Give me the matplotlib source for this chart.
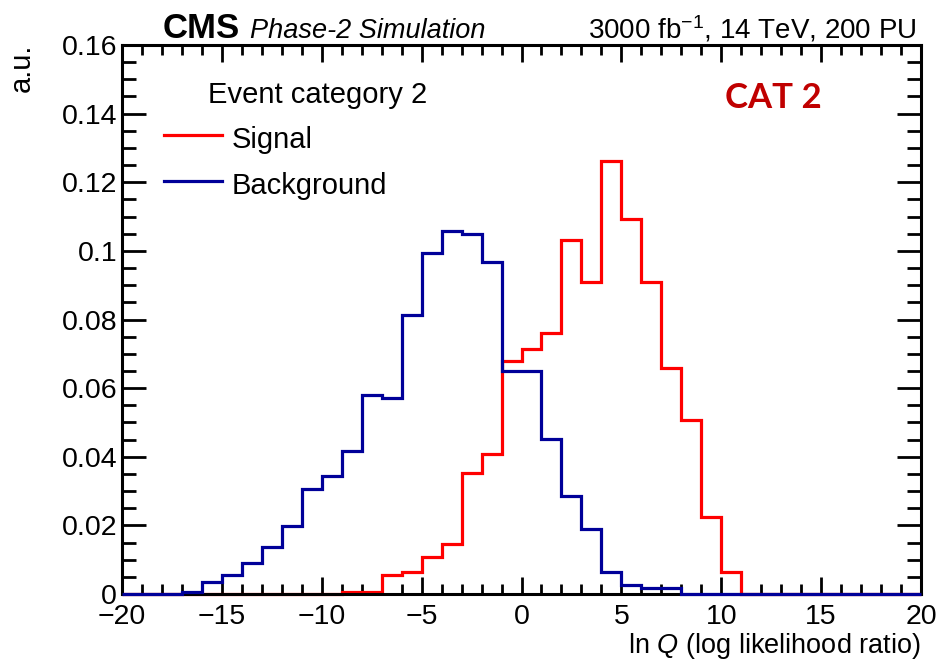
import numpy as np
import matplotlib
matplotlib.use('Agg')
import matplotlib.pyplot as plt
from matplotlib.ticker import MultipleLocator, FixedLocator, FixedFormatter

# bin edges of the ln Q histogram (width 1)
bin_edges = np.arange(-20, 21)

# background, bins -20 ... 19
background = [0, 0, 0, 0.0007, 0.0034, 0.0055, 0.0089, 0.0136, 0.0198, 0.0307,
              0.0343, 0.0416, 0.0579, 0.0570, 0.0813, 0.0993, 0.1058, 0.1049, 0.0967, 0.0651,
              0.0651, 0.0452, 0.0287, 0.0189, 0.0063, 0.0026, 0.0017, 0.0017, 0, 0,
              0, 0, 0, 0, 0, 0, 0, 0, 0, 0]

# signal, bins -20 ... 19
signal = [0, 0, 0, 0, 0, 0, 0, 0, 0, 0,
          0, 0.0007, 0.0007, 0.0055, 0.0063, 0.0109, 0.0145, 0.0353, 0.0408, 0.0679,
          0.0713, 0.0760, 0.1032, 0.0910, 0.1263, 0.1094, 0.0910, 0.0660, 0.0507, 0.0225,
          0.0063, 0, 0, 0, 0, 0, 0, 0, 0, 0]

y_ticks = [0, 0.02, 0.04, 0.06, 0.08, 0.1, 0.12, 0.14, 0.16]
y_tick_labels = ["0", "0.02", "0.04", "0.06", "0.08", "0.1", "0.12", "0.14", "0.16"]
x_ticks = [-20, -15, -10, -5, 0, 5, 10, 15, 20]
x_tick_labels = ["\u221220", "\u221215", "\u221210", "\u22125", "0", "5", "10", "15", "20"]

plt.rcParams['font.family'] = ['Liberation Sans', 'DejaVu Sans']
plt.rcParams['mathtext.fontset'] = 'custom'
plt.rcParams['mathtext.rm'] = 'Liberation Sans'
plt.rcParams['mathtext.it'] = 'Liberation Sans:italic'

W, H = 936, 661
fig = plt.figure(figsize=(W / 100, H / 100), dpi=100)


def px(x, y):
    return x / W, 1 - y / H


left, right, top, bottom = 122, 921, 45, 594
ax = fig.add_axes([left / W, 1 - bottom / H, (right - left) / W, (bottom - top) / H])

red = '#ff0000'
blue = '#000099'
ax.stairs(signal, bin_edges, color=red, lw=2.3, zorder=2, clip_on=False)
ax.stairs(background, bin_edges, color=blue, lw=2.3, zorder=3, clip_on=False)

ax.set_xlim(-20, 20)
ax.set_ylim(0, 0.16)

for s in ax.spines.values():
    s.set_linewidth(2.2)

ax.xaxis.set_major_locator(FixedLocator(x_ticks))
ax.xaxis.set_major_formatter(FixedFormatter(x_tick_labels))
ax.xaxis.set_minor_locator(MultipleLocator(1))
ax.yaxis.set_major_locator(FixedLocator(y_ticks))
ax.yaxis.set_major_formatter(FixedFormatter(y_tick_labels))
ax.yaxis.set_minor_locator(MultipleLocator(0.005))

ax.tick_params(axis='both', which='both', direction='in', top=True, right=True,
               width=2, labelsize=20.5, colors='black')
ax.tick_params(axis='x', which='major', length=12, pad=7)
ax.tick_params(axis='x', which='minor', length=7)
ax.tick_params(axis='y', which='major', length=17, pad=3.5)
ax.tick_params(axis='y', which='minor', length=10)

# axis titles
fig.text(*px(921, 653), r"ln $\mathit{Q}$ (log likelihood ratio)", ha='right', va='baseline', fontsize=19.5)
fig.text(*px(22, 44), "a.u.", rotation=90, ha='center', va='top', fontsize=21)

# header
fig.text(*px(163, 38), "CMS", fontweight='bold', fontsize=25, va='baseline')
fig.text(*px(250, 38), "Phase-2 Simulation", style='italic', fontsize=19.5, va='baseline')
fig.text(*px(916, 38), r"3000 fb$^{-1}$, 14 TeV, 200 PU", ha='right', va='baseline', fontsize=20)

# legend drawn by hand like the ROOT TLegend
fig.text(*px(208, 103), "Event category 2", fontsize=21, va='baseline')
ax.plot([-17.9, -15.0], [0.1338, 0.1338], color=red, lw=2.3, clip_on=False)
ax.plot([-17.9, -15.0], [0.1204, 0.1204], color=blue, lw=2.3, clip_on=False)
fig.text(*px(232, 148), "Signal", fontsize=21, va='baseline')
fig.text(*px(232, 194), "Background", fontsize=21, va='baseline')

fig.text(*px(725, 108), "CAT 2", fontsize=25, fontweight='bold', color='#c00000',
         family=['Lato', 'DejaVu Sans'], va='baseline')

fig.savefig('out.png', dpi=100)
